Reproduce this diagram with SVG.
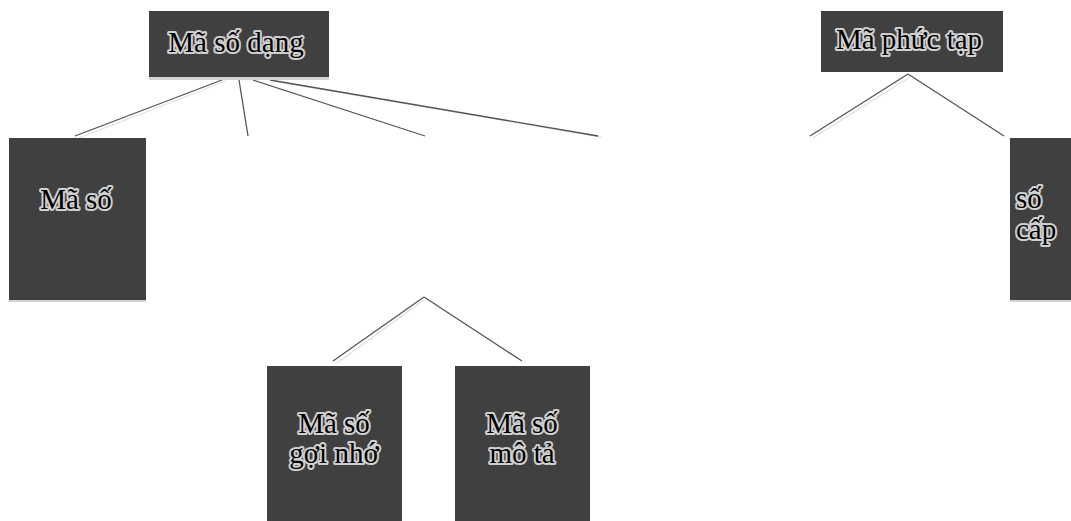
<svg xmlns="http://www.w3.org/2000/svg" width="1071" height="521" viewBox="0 0 1071 521">
<style>
.box{fill:#404040}
.edge{fill:#d4d4d4}
.t{font-family:"Liberation Serif","Times New Roman",serif;font-size:29px;fill:#000;stroke:#d0d0d0;stroke-width:4;paint-order:stroke;stroke-linejoin:round}
.c{stroke:#555;stroke-width:1.3;fill:none}
.s{stroke:#e0e0e0;stroke-width:1.3;fill:none}
</style>
<rect width="1071" height="521" fill="#fff"/>
<g id="connectors">
<line class="s" x1="226" y1="81" x2="79" y2="138"/>
<line class="s" x1="273" y1="81" x2="601" y2="137"/>
<line class="s" x1="910" y1="77" x2="813" y2="138"/>
<line class="s" x1="424" y1="300" x2="337" y2="363"/>
<line class="c" x1="222" y1="80" x2="75" y2="136"/>
<line class="c" x1="239" y1="80" x2="248" y2="136"/>
<line class="c" x1="253" y1="80" x2="425" y2="136"/>
<line class="c" x1="270" y1="80" x2="598" y2="136"/>
<line class="c" x1="908" y1="74" x2="810" y2="136"/>
<line class="c" x1="908" y1="74" x2="1004" y2="136"/>
<line class="c" x1="424" y1="297" x2="333" y2="361"/>
<line class="c" x1="424" y1="297" x2="522" y2="361"/>
</g>
<g id="n1">
<rect class="edge" x="149" y="11" width="180" height="69"/>
<rect class="box" x="149" y="11" width="180" height="66"/>
<text class="t" x="236" y="52" text-anchor="middle">Mã số dạng</text>
</g>
<g id="n2">
<rect class="box" x="821" y="11" width="182" height="61"/>
<text class="t" x="909" y="49" text-anchor="middle">Mã phức tạp</text>
</g>
<g id="n3">
<rect class="edge" x="9" y="138" width="137" height="164"/>
<rect class="box" x="9" y="138" width="137" height="162"/>
<text class="t" x="76" y="209" text-anchor="middle">Mã số</text>
</g>
<g id="n4">
<rect class="edge" x="1010" y="138" width="61" height="164"/>
<rect class="box" x="1010" y="138" width="61" height="162"/>
<text class="t" x="1016" y="208">số</text>
<text class="t" x="1016" y="239">cấp</text>
</g>
<g id="n5">
<rect class="box" x="267" y="366" width="135" height="155"/>
<text class="t" x="334" y="433" text-anchor="middle">Mã số</text>
<text class="t" x="334" y="463" text-anchor="middle">gợi nhớ</text>
</g>
<g id="n6">
<rect class="box" x="455" y="366" width="135" height="155"/>
<text class="t" x="522" y="433" text-anchor="middle">Mã số</text>
<text class="t" x="522" y="463" text-anchor="middle">mô tả</text>
</g>
</svg>
